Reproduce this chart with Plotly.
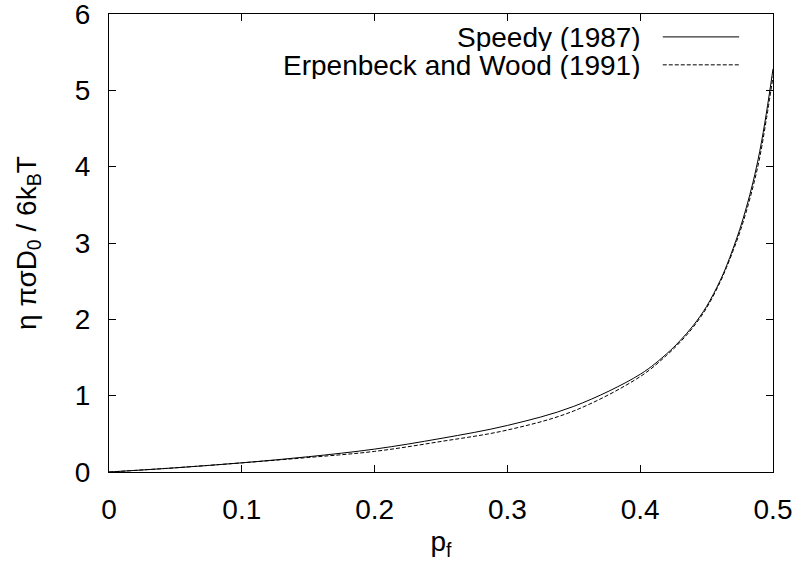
import plotly.graph_objects as go

# Packing fraction values
pf = [0, 0.05, 0.1, 0.15, 0.2, 0.25, 0.3, 0.35, 0.4, 0.42, 0.43, 0.44, 0.45, 0.46,
      0.465, 0.47, 0.475, 0.48, 0.485, 0.49, 0.495, 0.5]
# Speedy (1987)
speedy = [0, 0.055, 0.12, 0.20, 0.30, 0.44, 0.61, 0.86, 1.28, 1.55, 1.72, 1.92, 2.17,
          2.50, 2.70, 2.93, 3.18, 3.47, 3.80, 4.20, 4.70, 5.28]
# Erpenbeck and Wood (1991)
erpenbeck = [0, 0.055, 0.12, 0.19, 0.27, 0.40, 0.55, 0.80, 1.25, 1.53, 1.70, 1.90, 2.15,
             2.48, 2.68, 2.90, 3.14, 3.42, 3.74, 4.12, 4.62, 5.18]

x_ticks = [0, 0.1, 0.2, 0.3, 0.4, 0.5]
x_labels = ["0", "0.1", "0.2", "0.3", "0.4", "0.5"]
y_ticks = [0, 1, 2, 3, 4, 5, 6]
y_labels = ["0", "1", "2", "3", "4", "5", "6"]

names = ["Speedy (1987)", "Erpenbeck and Wood (1991)"]
dashes = ["solid", "4px,2px"]
series = [speedy, erpenbeck]

FONT = "Liberation Sans, Arial, sans-serif"
FS = 28

fig = go.Figure()
for name, ys, dash in zip(names, series, dashes):
    fig.add_trace(go.Scatter(x=pf, y=ys, mode="lines", name=name,
                             line=dict(color="black", width=1, dash=dash, shape="spline", smoothing=1.0),
                             showlegend=False))

# custom gnuplot-style key: text right-aligned, sample on the right
key_y = [0.950, 0.889]
for name, dash, ky in zip(names, dashes, key_y):
    fig.add_annotation(x=0.804, y=ky, xref="paper", yref="paper", text=name,
                       showarrow=False, xanchor="right", yanchor="middle", height=28,
                       font=dict(family=FONT, size=FS, color="black"))
    fig.add_shape(type="line", xref="paper", yref="paper", x0=0.834, x1=0.949,
                  y0=ky, y1=ky, line=dict(color="black", width=1, dash=dash))

axis_common = dict(showline=True, linecolor="black", linewidth=1, mirror="ticks",
                   ticks="inside", ticklen=7, tickcolor="black", tickwidth=1,
                   showgrid=False, zeroline=False, ticklabeloverflow="allow",
                   automargin=False,
                   tickfont=dict(family=FONT, size=FS, color="black"))

fig.update_xaxes(range=[0, 0.5], tickmode="array", tickvals=x_ticks, ticktext=x_labels,
                 title=dict(text="p<sub>f</sub>", font=dict(family=FONT, size=FS, color="black"), standoff=18),
                 ticklabelstandoff=12, **axis_common)
fig.update_yaxes(range=[0, 6], tickmode="array", tickvals=y_ticks, ticktext=y_labels,
                 title=dict(text="η πσD<sub>0</sub> / 6k<sub>B</sub>T", font=dict(family=FONT, size=FS, color="black"), standoff=30),
                 ticklabelstandoff=12, **axis_common)

fig.update_layout(width=799, height=561, margin=dict(l=109, r=26, t=14, b=89),
                  paper_bgcolor="white", plot_bgcolor="white",
                  font=dict(family=FONT, size=FS, color="black"))

fig.write_html("out.html")
